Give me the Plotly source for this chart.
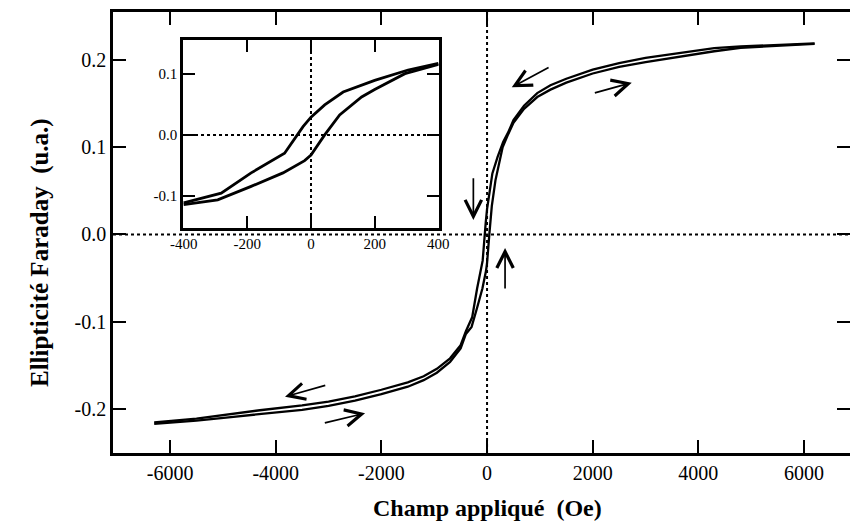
import plotly.graph_objects as go

# ---- data: descending-field branch (upper) ----
h_down = [6200, 5500, 4800, 4300, 3500, 3000, 2500, 2000, 1500, 1200, 950, 700, 500,
          400, 305, 200, 101, 43, 0, -25, -83, -188, -282, -400,
          -500, -700, -950, -1200, -1500, -2000, -2500, -3000, -3500, -4300, -4800, -5500, -6300]
m_down = [0.2190, 0.2175, 0.2155, 0.2135, 0.2070, 0.2025, 0.1965, 0.1890, 0.1785, 0.1710, 0.1620, 0.1475, 0.1310,
          0.117, 0.106, 0.089, 0.070, 0.049, 0.029, 0.0135, -0.030, -0.062, -0.095, -0.111,
          -0.127, -0.142, -0.154, -0.1625, -0.1695, -0.178, -0.1855, -0.1915, -0.1960, -0.2015, -0.2055, -0.2110, -0.2155]

# ---- data: ascending-field branch (lower) ----
h_up = [-6300, -5500, -4800, -4300, -3500, -3000, -2500, -2000, -1500, -1200, -950, -700, -500,
        -400, -293, -188, -88, -20, 0, 43, 90, 159, 200, 295, 400,
        500, 700, 950, 1200, 1500, 2000, 2500, 3000, 3500, 4300, 4800, 5500, 6200]
m_up = [-0.2170, -0.2135, -0.2090, -0.2060, -0.2010, -0.1965, -0.1905, -0.1830, -0.1745, -0.1670, -0.1585, -0.1460, -0.1305,
        -0.114, -0.106, -0.084, -0.062, -0.042, -0.033, 0.0, 0.0325, 0.062, 0.074, 0.100, 0.115,
        0.1280, 0.1440, 0.1575, 0.1660, 0.1740, 0.1845, 0.1920, 0.1975, 0.2025, 0.2100, 0.2140, 0.2165, 0.2185]

main_xticks = [-6000, -4000, -2000, 0, 2000, 4000, 6000]
main_xlabels = ["-6000", "-4000", "-2000", "0", "2000", "4000", "6000"]
main_yticks = [-0.2, -0.1, 0.0, 0.1, 0.2]
main_ylabels = ["-0.2", "-0.1", "0.0", "0.1", "0.2"]
inset_xticks = [-400, -200, 0, 200, 400]
inset_xlabels = ["-400", "-200", "0", "200", "400"]
inset_yticks = [-0.1, 0.0, 0.1]
inset_ylabels = ["-0.1", "0.0", "0.1"]

# arrows: (head_x, head_y, tail_x, tail_y)
arrows = [
    (468, 0.1687, 1193, 0.1923),
    (2739, 0.174, 2012, 0.1618),
    (-259, 0.0166, -259, 0.0662),
    (341, -0.0155, 341, -0.0636),
    (-3824, -0.186, -3034, -0.1725),
    (-2309, -0.2049, -3099, -0.2164),
]

FONT = "Liberation Serif"
lw = 2.3

fig = go.Figure()
fig.add_trace(go.Scatter(x=h_down, y=m_down, mode="lines", line=dict(color="black", width=lw),
                         showlegend=False, xaxis="x", yaxis="y"))
fig.add_trace(go.Scatter(x=h_up, y=m_up, mode="lines", line=dict(color="black", width=lw),
                         showlegend=False, xaxis="x", yaxis="y"))

# inset uses the low-field part of the same branches
def clip(hs, ms, lim=400):
    pts = [(h, m) for h, m in zip(hs, ms) if abs(h) <= lim]
    return [p[0] for p in pts], [p[1] for p in pts]

hi_d, mi_d = clip(h_down, m_down)
hi_u, mi_u = clip(h_up, m_up)
fig.add_trace(go.Scatter(x=hi_d, y=mi_d, mode="lines", line=dict(color="black", width=2.8),
                         showlegend=False, xaxis="x2", yaxis="y2"))
fig.add_trace(go.Scatter(x=hi_u, y=mi_u, mode="lines", line=dict(color="black", width=2.8),
                         showlegend=False, xaxis="x2", yaxis="y2"))

dot = dict(color="black", width=2, dash="3px,3px")
shapes = [
    dict(type="line", xref="x", yref="y", x0=-7080, x1=6870, y0=0, y1=0, line=dot, layer="below"),
    dict(type="line", xref="x", yref="y", x0=0, x1=0, y0=-0.2505, y1=0.255, line=dot, layer="below"),
    dict(type="line", xref="x2", yref="y2", x0=-402, x1=402, y0=0, y1=0, line=dot, layer="below"),
    dict(type="line", xref="x2", yref="y2", x0=0, x1=0, y0=-0.152, y1=0.155, line=dot, layer="below"),
]

annotations = []
for hx, hy, tx, ty in arrows:
    annotations.append(dict(x=hx, y=hy, ax=tx, ay=ty, xref="x", yref="y", axref="x", ayref="y",
                            text="", showarrow=True, arrowhead=5, arrowsize=1.9, arrowwidth=1.7,
                            arrowcolor="black"))
annotations.append(dict(text="<b>Ellipticité Faraday\u00a0\u00a0(u.a.)</b>", xref="paper", yref="paper",
                        x=-0.099, y=0.4535, xanchor="center", yanchor="middle", textangle=-90,
                        showarrow=False, font=dict(family=FONT, size=25, color="black")))
annotations.append(dict(text="<b>Champ appliqué\u00a0\u00a0(Oe)</b>", xref="paper", yref="paper",
                        x=0.5075, y=-0.1247, xanchor="center", yanchor="middle", showarrow=False,
                        font=dict(family=FONT, size=24, color="black")))

axis_common = dict(ticks="inside", tickwidth=2, showline=True, linewidth=2.5, linecolor="black",
                   mirror="ticks", showgrid=False, zeroline=False, automargin=False,
                   tickcolor="black")

fig.update_layout(
    width=850, height=528,
    margin=dict(l=113, r=0, t=12, b=75),
    paper_bgcolor="white", plot_bgcolor="white",
    font=dict(family=FONT, color="black"),
    shapes=shapes, annotations=annotations,
    xaxis=dict(range=[-7080, 6870], tickvals=main_xticks, ticktext=main_xlabels, ticklen=13,
               tickfont=dict(family=FONT, size=20), domain=[0, 1], **axis_common),
    yaxis=dict(range=[-0.2505, 0.255], tickvals=main_yticks, ticktext=main_ylabels, ticklen=13,
               tickfont=dict(family=FONT, size=20), domain=[0, 1], **axis_common),
    xaxis2=dict(range=[-402, 402], tickvals=inset_xticks, ticktext=inset_xlabels, ticklen=12,
                tickfont=dict(family=FONT, size=15), domain=[0.095, 0.4423], anchor="y2",
                **axis_common),
    yaxis2=dict(range=[-0.152, 0.155], tickvals=inset_yticks, ticktext=inset_ylabels, ticklen=12,
                tickfont=dict(family=FONT, size=15), domain=[0.5102, 0.9365], anchor="x2",
                **axis_common),
)

fig.write_html("out.html", config={"displayModeBar": False},
               post_script="document.body.style.margin='0px';")
